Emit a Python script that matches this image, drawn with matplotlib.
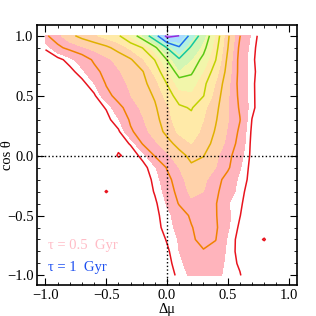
import numpy as np
import matplotlib
matplotlib.use("Agg")
import matplotlib.pyplot as plt
from matplotlib.ticker import MultipleLocator

plt.rcParams['font.family'] = ['Liberation Serif', 'DejaVu Serif']

# grid of Delta mu (columns) and cos theta (rows, top row = 1.0)
delta_mu = np.linspace(-1.0, 1.0, 21)
cos_theta = np.linspace(1.0, -1.0, 21)

# density, one row per cos theta value
density = np.array([
    [1.9, 2.35, 2.85, 3.18, 3.43, 3.68, 3.93, 4.58, 5.42, 6.6, 8.3, 8.0, 6.7, 5.55, 4.43, 3.12, 2.02, 1.29, 0.6, 0, 0],
    [1.1, 1.85, 2.19, 2.42, 2.65, 2.88, 3.2, 3.6, 4.02, 4.83, 6.02, 6.9, 5.87, 5.2, 4.22, 3.02, 1.87, 1.2, 0.5, 0, 0],
    [0.5, 0.8, 1.23, 1.68, 2.09, 2.37, 2.66, 2.94, 3.44, 4.02, 5.02, 5.9, 5.4, 4.83, 4.02, 2.88, 1.8, 1.13, 0.5, 0, 0],
    [0.3, 0.5, 0.8, 1.28, 1.83, 2.18, 2.45, 2.71, 2.97, 3.64, 4.45, 5.3, 5.1, 4.47, 3.73, 2.78, 1.81, 1.19, 0.5, 0, 0],
    [0, 0.3, 0.5, 0.8, 1.38, 2.05, 2.32, 2.58, 2.84, 3.29, 4.02, 4.7, 4.7, 4.15, 3.46, 2.64, 1.8, 1.13, 0.5, 0, 0],
    [0, 0, 0.3, 0.6, 0.9, 1.8, 2.22, 2.49, 2.76, 3.06, 3.69, 4.3, 4.4, 4.02, 3.29, 2.57, 1.86, 1.14, 0.5, 0, 0],
    [0, 0, 0, 0.4, 0.7, 1.05, 1.83, 2.27, 2.6, 2.93, 3.4, 3.9, 4.05, 3.62, 3.14, 2.56, 1.93, 1.15, 0.5, 0, 0],
    [0, 0, 0, 0.2, 0.5, 0.8, 1.36, 2.11, 2.46, 2.82, 3.3, 3.8, 3.85, 3.5, 3.05, 2.53, 2.02, 0.98, 0.4, 0, 0],
    [0, 0, 0, 0, 0.4, 0.6, 0.9, 1.9, 2.33, 2.7, 3.15, 3.6, 3.7, 3.4, 2.95, 2.45, 1.9, 0.9, 0.4, 0, 0],
    [0, 0, 0, 0, 0.3, 0.5, 0.7, 1.05, 2.05, 2.4, 2.8, 3.2, 3.5, 3.25, 2.82, 2.36, 1.8, 0.85, 0.3, 0, 0],
    [0, 0, 0, 0, 0, 0.3, 1.1, 0.7, 1.17, 2.05, 2.4, 2.8, 3.15, 3.02, 2.6, 2.2, 1.6, 0.85, 0.3, 0, 0],
    [0, 0, 0, 0, 0, 0, 0.3, 0.5, 0.8, 1.33, 2.05, 2.5, 2.9, 2.8, 2.5, 2.1, 1.45, 0.8, 0.3, 0, 0],
    [0, 0, 0, 0, 0, 0, 0.2, 0.4, 0.7, 1.13, 1.8, 2.35, 2.7, 2.6, 2.25, 1.76, 1.29, 0.8, 0.3, 0, 0],
    [0, 0, 0, 0, 0, 1.1, 0.2, 0.4, 0.6, 1.05, 1.6, 2.25, 2.6, 2.5, 2.1, 1.73, 1.18, 0.7, 0.3, 0, 0],
    [0, 0, 0, 0, 0, 0, 0, 0.3, 0.5, 0.9, 1.45, 2.05, 2.4, 2.45, 2.05, 1.43, 1.1, 0.6, 0.2, 0, 0],
    [0, 0, 0, 0, 0, 0, 0, 0.3, 0.5, 0.85, 1.25, 1.67, 2.1, 2.4, 2.05, 1.53, 1.02, 0.5, 0.2, 0, 0],
    [0, 0, 0, 0, 0, 0, 0, 0.2, 0.4, 0.8, 1.19, 1.58, 1.96, 2.3, 2.1, 1.47, 0.9, 0.5, 0.2, 0, 0],
    [0, 0, 0, 0, 0, 0, 0, 0, 0.3, 0.6, 1.05, 1.45, 1.9, 2.2, 2.02, 1.33, 0.8, 0.4, 1.1, 0, 0],
    [0, 0, 0, 0, 0, 0, 0, 0, 0.2, 0.5, 0.9, 1.4, 1.7, 1.95, 1.8, 1.3, 0.8, 0.4, 0.1, 0, 0],
    [0, 0, 0, 0, 0, 0, 0, 0, 0.2, 0.4, 0.8, 1.3, 1.6, 1.7, 1.6, 1.3, 0.9, 0.4, 0.1, 0, 0],
    [0, 0, 0, 0, 0, 0, 0, 0, 0.1, 0.3, 0.7, 1.15, 1.5, 1.6, 1.5, 1.3, 1.05, 0.4, 0.1, 0, 0],
])

line_levels = [1, 2, 3, 4, 5, 6, 7, 8]
line_colors = ['#e8141e', '#f08200', '#e0b000', '#c0d200', '#5ac814',
               '#14c8a0', '#1e6ef0', '#9628dc']
fill_levels = [1.4, 2.5, 3.5, 4.5, 5.4, 6.4, 7.4, 8.2, 100]
fill_colors = ['#ffb4bc', '#ffd2aa', '#ffeaa8', '#f2f6aa', '#d2f6b4',
               '#b4f2e0', '#aadcff', '#d8b8ff']

fig = plt.figure(figsize=(3.16, 3.16), dpi=100)
ax = fig.add_axes([0.117, 0.098, 0.823, 0.823])

ax.contourf(delta_mu, cos_theta, density, levels=fill_levels, colors=fill_colors)
ax.contour(delta_mu, cos_theta, density, levels=line_levels, colors=line_colors,
           linewidths=1.1)

ax.axvline(0, color='k', ls=':', lw=1.0)
ax.axhline(0, color='k', ls=':', lw=1.0)

ax.set_xlim(-1.07, 1.07)
ax.set_ylim(-1.08, 1.09)
ax.xaxis.set_major_locator(MultipleLocator(0.5))
ax.yaxis.set_major_locator(MultipleLocator(0.5))
ax.xaxis.set_minor_locator(MultipleLocator(0.1))
ax.yaxis.set_minor_locator(MultipleLocator(0.1))
ax.tick_params(which='both', direction='in', top=True, right=True, labelsize=10.5)
ax.tick_params(which='major', length=5, width=0.8, pad=2.5)
ax.tick_params(which='minor', length=2.5, width=0.6)
for s in ax.spines.values():
    s.set_linewidth(1.2)

ax.set_xlabel('Δμ', fontsize=10.5, va='center')
ax.set_ylabel('cos θ', fontsize=10.5, va='center')
ax.xaxis.set_label_coords(0.5, -0.095)
ax.yaxis.set_label_coords(-0.115, 0.5)

ax.text(-0.98, -0.75, 'τ = 0.5  Gyr', color='#ffbcc6', fontsize=10.5, va='center')
ax.text(-0.98, -0.93, 'τ = 1  Gyr', color='#1e50f0', fontsize=10.5, va='center')

fig.savefig('out.png', dpi=100)
plt.close(fig)
